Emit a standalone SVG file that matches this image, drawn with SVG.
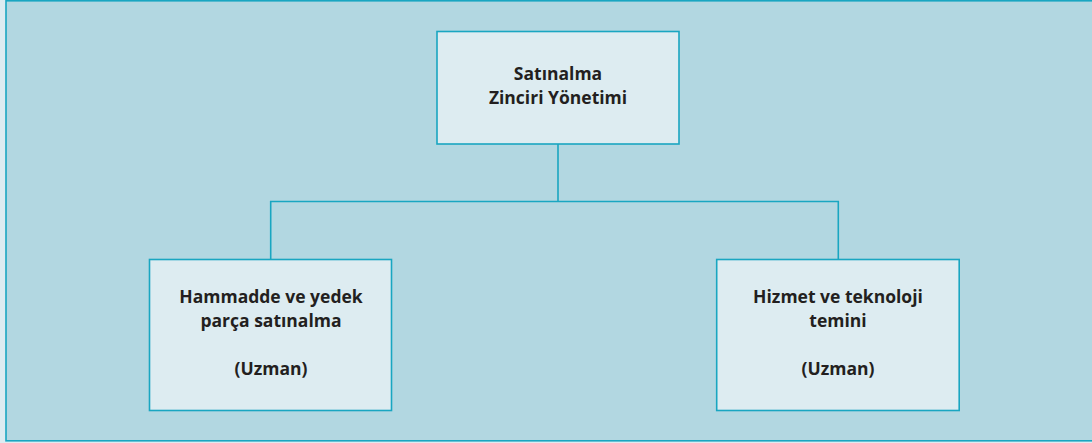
<svg xmlns="http://www.w3.org/2000/svg" width="1092" height="443" viewBox="0 0 1092 443">
<style>
.box{fill:#ddecf1;stroke:#19a6c1;stroke-width:1.6}
.conn{fill:none;stroke:#19a6c1;stroke-width:1.6}
.t{font-family:"Open Sans","Noto Sans","Liberation Sans",sans-serif;font-weight:700;font-size:17.5px;fill:#231f20;text-anchor:middle}
</style>
<rect x="0" y="0" width="1092" height="443" fill="#ddecf1"/>
<rect x="6" y="0.8" width="1090" height="440" fill="#b2d7e1" stroke="#19a6c1" stroke-width="1.6"/>
<g id="connectors">
<path class="conn" d="M558 144 V201.5 M270.7 259 V201.5 H838.3 V259"/>
</g>
<g id="node-top">
<rect class="box" x="437" y="31.5" width="242" height="112.5"/>
<text class="t" x="558" y="80">Satınalma</text>
<text class="t" x="558" y="104">Zinciri Yönetimi</text>
</g>
<g id="node-left">
<rect class="box" x="149.5" y="259.5" width="242" height="151"/>
<text class="t" x="271" y="303">Hammadde ve yedek</text>
<text class="t" x="271" y="327">parça satınalma</text>
<text class="t" x="271" y="375">(Uzman)</text>
</g>
<g id="node-right">
<rect class="box" x="716.7" y="259.5" width="242.5" height="151"/>
<text class="t" x="838" y="303">Hizmet ve teknoloji</text>
<text class="t" x="838" y="327">temini</text>
<text class="t" x="838" y="375">(Uzman)</text>
</g>
</svg>
